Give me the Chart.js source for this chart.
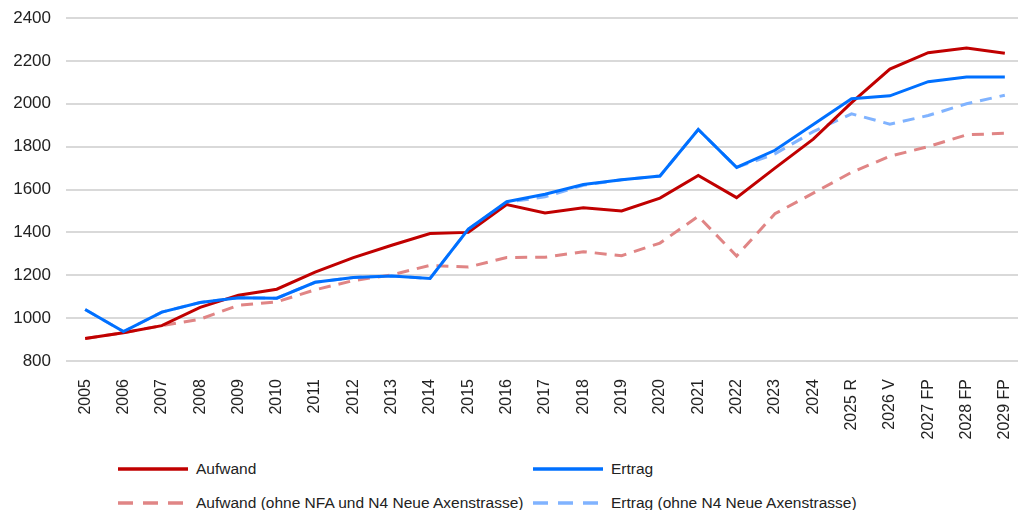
<!DOCTYPE html>
<html lang="de">
<head>
<meta charset="utf-8">
<title>Aufwand und Ertrag</title>
<script src="https://cdn.jsdelivr.net/npm/chart.js@4.4.1/dist/chart.umd.min.js"></script>
<style>
    html, body { margin: 0; padding: 0; background: #fff; overflow: hidden; }
    #wrap { position: relative; width: 1018px; height: 510px; overflow: hidden; }
    #chart { position: absolute; left: 0; top: 0; }
    .legend-item {
        position: absolute;
        display: flex;
        align-items: center;
        font-family: "Liberation Sans", Arial, sans-serif;
        font-size: 15.5px;
        color: #222;
        white-space: nowrap;
        height: 20px;
    }
    .legend-item svg { margin-right: 8px; }
</style>
</head>
<body>
<div id="wrap">
    <canvas id="chart" width="1024" height="445"></canvas>
    <div id="legend"></div>
</div>
<script>
// Kategorien (Jahre)
const years = ['2005', '2006', '2007', '2008', '2009', '2010', '2011', '2012', '2013', '2014',
    '2015', '2016', '2017', '2018', '2019', '2020', '2021', '2022', '2023', '2024',
    '2025 R', '2026 V', '2027 FP', '2028 FP', '2029 FP'];

// Werte
const aufwand = [905, 932, 965, 1050, 1107, 1135, 1215, 1282, 1340, 1395,
    1400, 1530, 1490, 1515, 1500, 1560, 1665, 1562, 1700, 1835,
    2005, 2162, 2238, 2260, 2236];
const ertrag = [1040, 937, 1028, 1073, 1095, 1093, 1167, 1190, 1197, 1185,
    1415, 1543, 1578, 1623, 1645, 1663, 1880, 1703, 1783, 1903,
    2023, 2037, 2103, 2125, 2125];
const aufwandOhne = [905, 932, 965, 995, 1060, 1076, 1132, 1175, 1202, 1246,
    1238, 1283, 1284, 1310, 1291, 1350, 1475, 1290, 1487, 1583,
    1680, 1755, 1800, 1855, 1862];
const ertragOhne = [1040, 937, 1028, 1073, 1095, 1093, 1167, 1190, 1197, 1185,
    1415, 1540, 1566, 1620, 1645, 1663, 1880, 1703, 1766, 1870,
    1953, 1905, 1945, 2000, 2040];

// Achse
const yMin = 800;
const yMax = 2400;
const yStep = 200;

const legendItems = [
    { label: 'Aufwand', color: '#c00000', dash: null, x: 118, y: 459 },
    { label: 'Ertrag', color: '#0070ff', dash: null, x: 533, y: 459 },
    { label: 'Aufwand (ohne NFA und N4 Neue Axenstrasse)', color: '#e08585', dash: '15 10', x: 118, y: 493 },
    { label: 'Ertrag (ohne N4 Neue Axenstrasse)', color: '#80b3ff', dash: '15 10', x: 533, y: 493 }
];

// Legende als HTML
function buildLegend() {
    const container = document.getElementById('legend');
    container.innerHTML = legendItems.map(item => `
        <div class="legend-item" style="left:${item.x}px; top:${item.y}px;">
            <svg width="70" height="6">
                <line x1="0" y1="3" x2="70" y2="3" stroke="${item.color}" stroke-width="3.5"
                    ${item.dash ? `stroke-dasharray="${item.dash}"` : ''}/>
            </svg>
            <span>${item.label}</span>
        </div>
    `).join('');
}

buildLegend();

const ctx = document.getElementById('chart').getContext('2d');
new Chart(ctx, {
    type: 'line',
    data: {
        labels: years,
        datasets: [{
            label: 'Aufwand',
            data: aufwand,
            borderColor: '#c00000',
            borderWidth: 3,
            order: 1
        }, {
            label: 'Ertrag',
            data: ertrag,
            borderColor: '#0070ff',
            borderWidth: 3,
            order: 0
        }, {
            label: 'Aufwand (ohne NFA und N4 Neue Axenstrasse)',
            data: aufwandOhne,
            borderColor: '#e08585',
            borderWidth: 3,
            borderDash: [12, 8],
            order: 3
        }, {
            label: 'Ertrag (ohne N4 Neue Axenstrasse)',
            data: ertragOhne,
            borderColor: '#80b3ff',
            borderWidth: 3,
            borderDash: [12, 8],
            order: 2
        }]
    },
    options: {
        responsive: false,
        animation: false,
        devicePixelRatio: 1,
        layout: {
            padding: { top: 18, left: 0, right: 0, bottom: 0 }
        },
        elements: {
            point: { radius: 0, hoverRadius: 0 },
            line: { tension: 0, fill: false }
        },
        plugins: {
            legend: { display: false },
            tooltip: { enabled: false }
        },
        scales: {
            x: {
                offset: true,
                grid: { display: false },
                border: { display: false },
                ticks: {
                    minRotation: 90,
                    maxRotation: 90,
                    autoSkip: false,
                    padding: 10,
                    color: '#222',
                    font: { family: '"Liberation Sans", Arial, sans-serif', size: 16 }
                },
                afterFit: function(scale) {
                    scale.height = 84;
                    scale.paddingLeft = 0;
                    scale.paddingRight = 0;
                }
            },
            y: {
                min: yMin,
                max: yMax,
                grid: {
                    color: '#d9d9d9',
                    lineWidth: 2,
                    drawTicks: false
                },
                border: { display: false },
                ticks: {
                    stepSize: yStep,
                    padding: 15,
                    color: '#222',
                    font: { family: '"Liberation Sans", Arial, sans-serif', size: 17 },
                    callback: function(value) {
                        return String(value);
                    }
                },
                afterFit: function(scale) {
                    scale.width = 66;
                    scale.paddingTop = 0;
                    scale.paddingBottom = 0;
                }
            }
        }
    }
});
</script>
</body>
</html>
